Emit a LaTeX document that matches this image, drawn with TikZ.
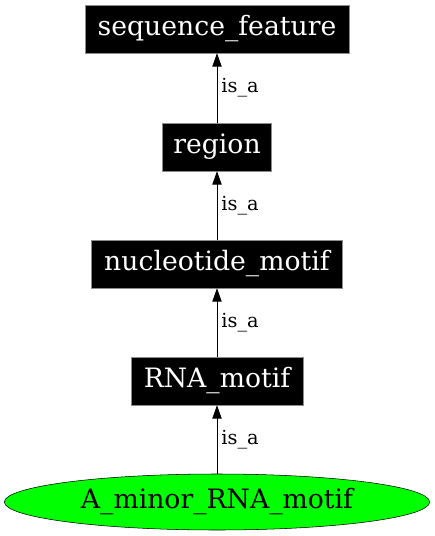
\documentclass[tikz,border=0pt]{standalone}
\usepackage{fontspec}
\setmainfont{DejaVu Serif}
\usetikzlibrary{arrows.meta,shapes.geometric}

\begin{document}
\begin{tikzpicture}[
  x=0.75pt,y=-0.75pt,
  >={Triangle[length=10pt,width=7pt]},
  term/.style={draw=black!45,fill=black,text=white,font=\fontsize{20}{22}\selectfont,minimum height=36pt,inner sep=0pt},
  leaf/.style={ellipse,draw,fill=green,font=\fontsize{20}{22}\selectfont,minimum width=319pt,minimum height=42pt,inner sep=0pt},
  isa/.style={->,semithick},
  lbl/.style={right,font=\fontsize{14.5}{16}\selectfont,inner sep=3pt}
]
  \useasboundingbox (0,0) rectangle (435,536);
  \node[term,minimum width=198pt] (seqfeat) at (217,29) {sequence\_feature};
  \node[term,minimum width=82pt] (region) at (217,147) {region};
  \node[term,minimum width=188pt] (ntmotif) at (217,264) {nucleotide\_motif};
  \node[term,minimum width=129pt] (rnamotif) at (217,381) {RNA\_motif};
  \node[leaf] (aminor) at (217,502) {A\_minor\_RNA\_motif};

  \draw[isa] (region) -- node[lbl] {is\_a} (seqfeat);
  \draw[isa] (ntmotif) -- node[lbl] {is\_a} (region);
  \draw[isa] (rnamotif) -- node[lbl] {is\_a} (ntmotif);
  \draw[isa] (aminor) -- node[lbl] {is\_a} (rnamotif);
\end{tikzpicture}
\end{document}
